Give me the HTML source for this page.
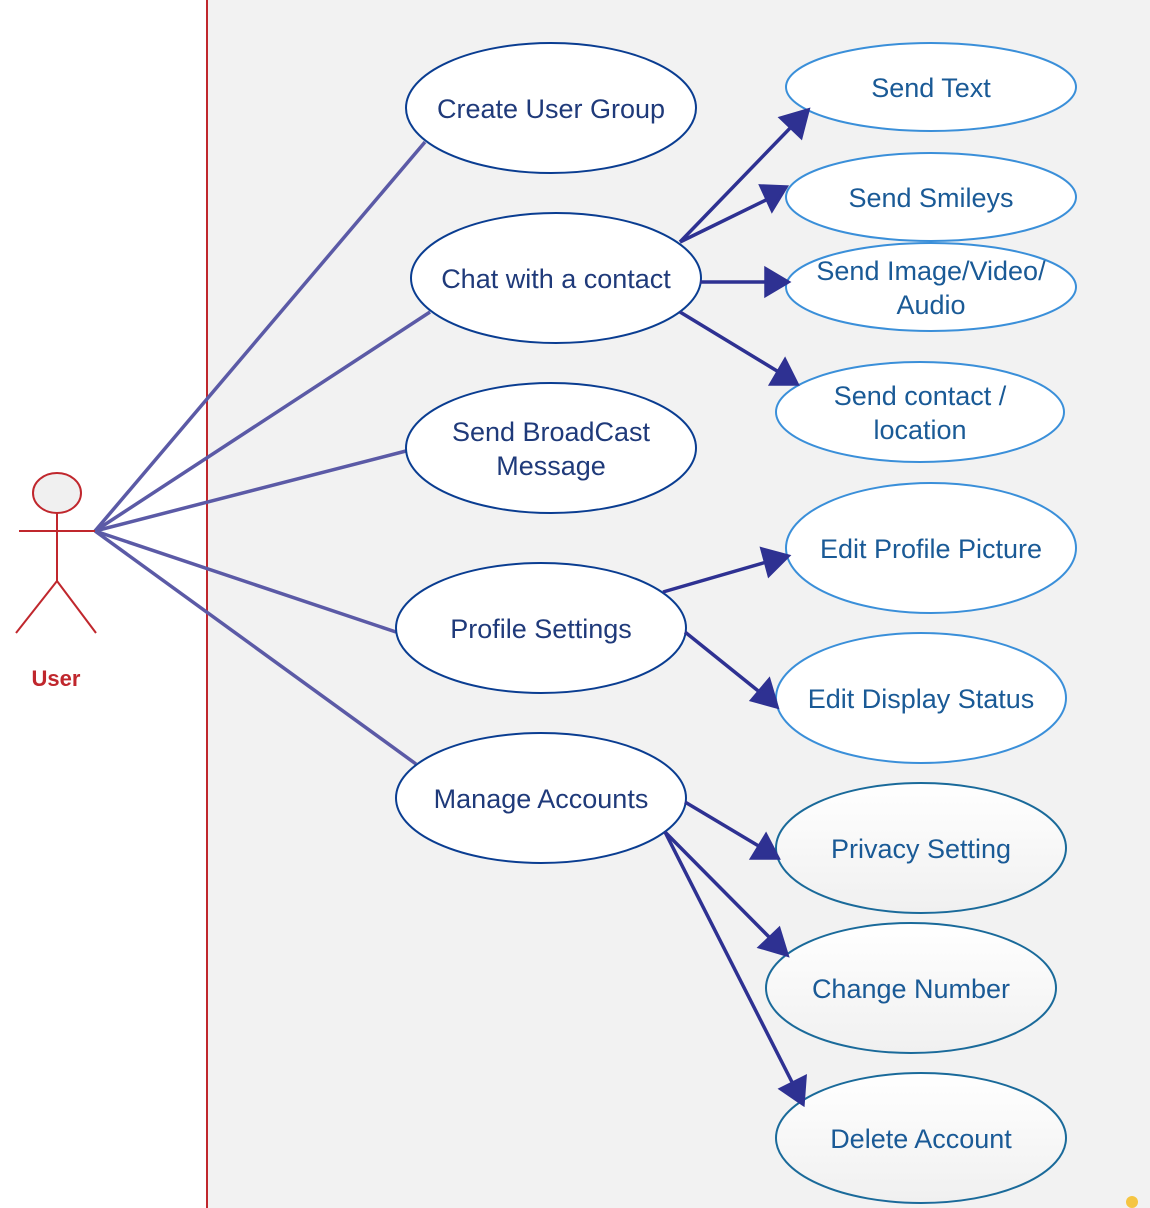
<!DOCTYPE html>
<html><head><style>body{margin:0}svg{display:block}</style></head><body>
<svg width="1150" height="1208" viewBox="0 0 1150 1208" xmlns="http://www.w3.org/2000/svg" font-family="Liberation Sans, sans-serif">
<defs>
<marker id="a" markerWidth="10" markerHeight="10" refX="9" refY="5" orient="auto" markerUnits="userSpaceOnUse" viewBox="0 0 10 10">
</marker>
<linearGradient id="g" x1="0" y1="0" x2="0" y2="1"><stop offset="0" stop-color="#ffffff"/><stop offset="1" stop-color="#f0f0f0"/></linearGradient>
</defs>
<rect width="1150" height="1208" fill="#fff"/>
<rect x="207" y="0" width="943" height="1208" fill="#f2f2f2"/>
<line x1="207" y1="0" x2="207" y2="1208" stroke="#c0272d" stroke-width="2"/>
<g stroke="#5b5aa6" stroke-width="3.5">
<line x1="95" y1="531" x2="425" y2="142"/>
<line x1="95" y1="531" x2="430" y2="312"/>
<line x1="95" y1="531" x2="406" y2="451"/>
<line x1="95" y1="531" x2="396" y2="632"/>
<line x1="95" y1="531" x2="416" y2="764"/>
</g>
<g fill="#f0f0f0" stroke="#c0272d" stroke-width="2">
<ellipse cx="57" cy="493" rx="24" ry="20"/>
<line x1="57" y1="513" x2="57" y2="581"/>
<line x1="19" y1="531" x2="95" y2="531"/>
<line x1="57" y1="581" x2="16" y2="633"/>
<line x1="57" y1="581" x2="96" y2="633"/>
</g>
<text x="56" y="686" fill="#c0272d" font-weight="bold" font-size="22" text-anchor="middle">User</text>
<g fill="#fff" stroke="#0a3d91" stroke-width="2">
<ellipse cx="551" cy="108" rx="145" ry="65"/>
<ellipse cx="556" cy="278" rx="145" ry="65"/>
<ellipse cx="551" cy="448" rx="145" ry="65"/>
<ellipse cx="541" cy="628" rx="145" ry="65"/>
<ellipse cx="541" cy="798" rx="145" ry="65"/>
</g>
<g fill="#fff" stroke="#3a8fd9" stroke-width="2">
<ellipse cx="931" cy="87" rx="145" ry="44"/>
<ellipse cx="931" cy="197" rx="145" ry="44"/>
<ellipse cx="931" cy="287" rx="145" ry="44"/>
<ellipse cx="920" cy="412" rx="144" ry="50"/>
<ellipse cx="931" cy="548" rx="145" ry="65"/>
<ellipse cx="921" cy="698" rx="145" ry="65"/>
</g>
<g fill="url(#g)" stroke="#1a6a9a" stroke-width="2">
<ellipse cx="921" cy="848" rx="145" ry="65"/>
<ellipse cx="911" cy="988" rx="145" ry="65"/>
<ellipse cx="921" cy="1138" rx="145" ry="65"/>
</g>
<g stroke="#2e3192" stroke-width="3.5" fill="#2e3192">
<line x1="680" y1="242" x2="795" y2="123"/><polygon points="808,110 801,137 781,118"/>
<line x1="680" y1="242" x2="772" y2="197"/><polygon points="786,187 772,210 761,186"/>
<line x1="700" y1="282" x2="770" y2="282"/><polygon points="788,282 766,269 766,295"/>
<line x1="680" y1="312" x2="782" y2="374"/><polygon points="797,384 771,384 785,360"/>
<line x1="663" y1="592" x2="770" y2="561"/><polygon points="788,556 769,575 762,549"/>
<line x1="685" y1="632" x2="762" y2="694"/><polygon points="777,707 752,700 769,680"/>
<line x1="685" y1="802" x2="762" y2="848"/><polygon points="778,858 752,858 766,835"/>
<line x1="665" y1="832" x2="773" y2="941"/><polygon points="787,955 760,947 779,929"/>
<line x1="665" y1="832" x2="794" y2="1086"/><polygon points="803,1104 781,1089 805,1077"/>
</g>
<g font-size="27" text-anchor="middle" fill="#1f3a7a">
<text x="551" y="118">Create User Group</text>
<text x="556" y="288">Chat with a contact</text>
<text x="551" y="441">Send BroadCast</text>
<text x="551" y="475">Message</text>
<text x="541" y="638">Profile Settings</text>
<text x="541" y="808">Manage Accounts</text>
</g>
<g font-size="27" text-anchor="middle" fill="#1a5a96">
<text x="931" y="97">Send Text</text>
<text x="931" y="207">Send Smileys</text>
<text x="931" y="280">Send Image/Video/</text>
<text x="931" y="314">Audio</text>
<text x="920" y="405">Send contact /</text>
<text x="920" y="439">location</text>
<text x="931" y="558">Edit Profile Picture</text>
<text x="921" y="708">Edit Display Status</text>
<text x="921" y="858">Privacy Setting</text>
<text x="911" y="998">Change Number</text>
<text x="921" y="1148">Delete Account</text>
</g>
<circle cx="1132" cy="1202" r="6" fill="#f5c542"/>
</svg>
</body></html>
